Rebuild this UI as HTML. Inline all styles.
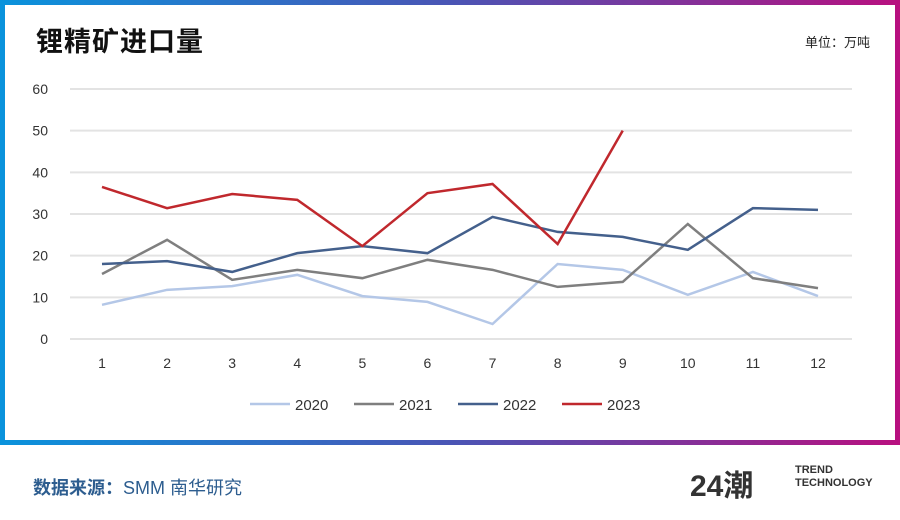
<!DOCTYPE html>
<html><head><meta charset="utf-8"><style>
body{margin:0;width:900px;height:520px;background:#fff;position:relative;overflow:hidden;font-family:"Liberation Sans","Noto Sans CJK SC",sans-serif}
#frame{position:absolute;left:0;top:0;width:900px;height:445px;background:linear-gradient(90deg,#0a93dc,#4a55b5 50%,#b8107f)}
#inner{position:absolute;left:5px;top:5px;width:890px;height:435px;background:#fff}
#title{position:absolute;left:36px;top:20px;font-size:27px;font-weight:bold;color:#111;letter-spacing:1px}
#unit{position:absolute;right:30px;top:32px;font-size:13px;color:#222}
#src{position:absolute;left:33px;top:474px;font-size:18px;color:#2d5d8f}
#src b{color:#2d5d8f}
#logo{position:absolute;left:690px;top:461px;font-size:30px;font-weight:bold;color:#333}
#logo2{position:absolute;left:795px;top:464px;font-size:11px;font-weight:bold;color:#333;line-height:13px}
</style></head><body>
<div id="frame"></div>
<div id="inner"></div>
<div id="title">锂精矿进口量</div>
<div id="unit">单位：万吨</div>
<svg id="chart" width="900" height="520" style="position:absolute;left:0;top:0"></svg>
<div id="src"><b>数据来源：</b>SMM 南华研究</div>
<div id="logo">24潮</div>
<div id="logo2">TREND<br>TECHNOLOGY</div>
<script>
const categories=["1","2","3","4","5","6","7","8","9","10","11","12"];
const yTicks=[0,10,20,30,40,50,60];
const seriesNames=["2020","2021","2022","2023"];
const s2020=[8.2,11.8,12.7,15.4,10.3,8.9,3.6,18,16.6,10.6,16.1,10.3];
const s2021=[15.6,23.8,14.2,16.6,14.6,19,16.6,12.5,13.7,27.6,14.6,12.2];
const s2022=[18,18.7,16.1,20.6,22.3,20.6,29.3,25.7,24.5,21.4,31.4,31];
const s2023=[36.5,31.4,34.8,33.4,22.3,35,37.2,22.8,50];
const colors=["#b4c7e7","#7f7f7f","#44608c","#c0282d"];
const svg=document.getElementById('chart');
const NS="http://www.w3.org/2000/svg";
const x=i=>102+i*(818-102)/(categories.length-1);
const y=v=>339-v*(250/60);
function mk(t,a){const e=document.createElementNS(NS,t);for(const k in a)e.setAttribute(k,a[k]);svg.appendChild(e);return e;}
yTicks.forEach(t=>{
 const l=mk('line',{x1:70,x2:852,y1:y(t),y2:y(t),stroke:'#e3e3e3','stroke-width':2});
 
 
 const tx=mk('text',{x:48,y:y(t)+5,'text-anchor':'end','font-size':14,fill:'#333'});
 tx.textContent=t;
 
 
});
categories.forEach((c,i)=>{
 const tx=mk('text',{x:x(i),y:368,'text-anchor':'middle','font-size':14,fill:'#333'});
 tx.textContent=c;
 
 
});
[s2020,s2021,s2022,s2023].forEach((s,k)=>{
 const p=mk('polyline',{points:s.map((v,i)=>x(i)+','+y(v)).join(' '),fill:'none',stroke:colors[k],'stroke-width':2.5,'stroke-linejoin':'miter'});
 
 
 const lx=250+k*104;
 const l=mk('line',{x1:lx,x2:lx+40,y1:404,y2:404,stroke:colors[k],'stroke-width':2.5});
 
 
 const t=mk('text',{x:lx+45,y:410,'font-size':15,fill:'#333'});
 t.textContent=seriesNames[k];
 
 
});
</script>
</body></html>
